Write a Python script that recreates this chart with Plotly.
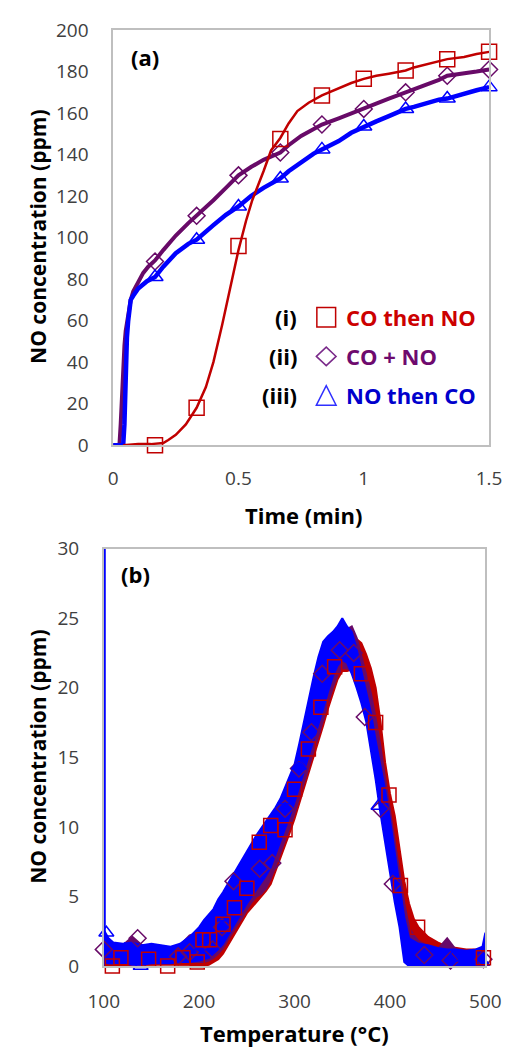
import plotly.graph_objects as go

# ---------------- Panel (a) data ----------------
P_T = [0, 0.02, 0.025, 0.03, 0.035, 0.04, 0.045, 0.05, 0.06, 0.07, 0.08, 0.10, 0.12, 0.14, 0.167, 0.20, 0.25, 0.30, 0.333, 0.40, 0.45, 0.50, 0.55, 0.60, 0.667, 0.70, 0.75, 0.80, 0.833, 0.90, 0.95, 1.00, 1.05, 1.10, 1.167, 1.20, 1.25, 1.30, 1.333, 1.40, 1.45, 1.50]
P_Y = [0, 0, 0, 10, 25, 38, 48, 55, 64, 70, 74, 79, 83, 86, 89, 94, 101, 107, 110.5, 118, 124, 130, 134, 137.5, 141, 144.5, 149, 152.5, 154.5, 157.5, 160, 162, 164.5, 167, 170, 171.5, 173.5, 176, 178, 179, 180, 181]

B_T = [0, 0.04, 0.045, 0.05, 0.055, 0.06, 0.065, 0.07, 0.08, 0.10, 0.135, 0.167, 0.20, 0.25, 0.30, 0.333, 0.40, 0.45, 0.50, 0.55, 0.60, 0.667, 0.70, 0.75, 0.80, 0.833, 0.90, 0.95, 1.00, 1.05, 1.10, 1.167, 1.20, 1.25, 1.30, 1.333, 1.40, 1.45, 1.50]
B_Y = [0, 0, 10, 35, 52, 60, 67, 70, 72, 75.5, 79, 81, 86, 92.5, 97, 99, 106, 111, 115, 120, 124, 128.5, 132, 136.5, 140.5, 142.5, 146.5, 150.5, 153.5, 156, 158.5, 162, 163, 165, 166.5, 167, 169.5, 171, 172.5]

R_T = [0.04, 0.10, 0.15, 0.20, 0.22, 0.25, 0.29, 0.333, 0.37, 0.40, 0.435, 0.46, 0.485, 0.50, 0.53, 0.555, 0.60, 0.63, 0.667, 0.70, 0.735, 0.78, 0.833, 0.90, 0.95, 1.00, 1.05, 1.10, 1.167, 1.20, 1.25, 1.30, 1.333, 1.40, 1.45, 1.50]
R_Y = [0, 0.5, 0.5, 1, 2.5, 5, 10, 18, 28, 40, 58, 72, 85, 94, 108, 118, 132, 142, 148, 155, 161, 165, 168.5, 172, 174.5, 176.5, 178, 179, 180.5, 182, 183.5, 185, 186, 187, 188.5, 189.5]

MK_T = [0.167, 0.333, 0.5, 0.667, 0.833, 1.0, 1.167, 1.333, 1.5]
MK_RED = [0, 18, 96, 147.5, 168.5, 176.5, 180.5, 186, 189.5]
MK_PUR = [88.5, 110.5, 130, 141, 154.5, 162, 170, 178, 181]
MK_BLU = [81, 99, 115, 128.5, 142.5, 153.5, 162, 167, 172.5]

A_XTICKS = [0, 0.5, 1, 1.5]
A_XLABELS = ["0", "0.5", "1", "1.5"]
A_YTICKS = list(range(0, 201, 20))

# ---------------- Panel (b) data ----------------
BX = [100, 105, 110, 120, 130, 140, 150, 160, 170, 180, 190, 200, 205, 210, 215, 220, 225, 230, 235, 240, 245, 250, 255, 260, 265, 270, 275, 280, 285, 290, 295, 300, 305, 310, 315, 320, 325, 330, 335, 340, 345, 350, 355, 360, 365, 370, 375, 380, 385, 390, 395, 400, 405, 410, 415, 420, 425, 430, 440, 450, 460, 470, 480, 490, 497, 500]
BLUE_LO = [0.3, 0.2, 0.2, 0.2, 0.1, 0.1, 0.2, 0.2, 0.2, 0.3, 0.3, 0.4, 0.5, 0.6, 0.9, 1.2, 1.6, 2.2, 2.8, 3.4, 3.9, 4.5, 5.0, 5.5, 6.0, 6.5, 7.1, 8.0, 8.9, 9.8, 10.8, 11.8, 12.9, 14.0, 15.1, 16.3, 17.4, 18.5, 19.7, 20.8, 21.6, 22.0, 21.8, 21.0, 20.0, 18.9, 17.6, 15.6, 13.4, 11.0, 8.8, 6.6, 4.6, 2.8, 0.3, 0, 0, 0, 0, 0, 0, 0, 0, 0, 0, 0]
BLUE_HI = [2.6, 2.0, 1.7, 1.6, 1.7, 1.5, 1.6, 1.5, 1.4, 1.6, 2.1, 2.8, 3.3, 3.7, 4.1, 4.8, 5.3, 5.9, 6.5, 7.0, 7.6, 8.2, 8.8, 9.4, 9.9, 10.4, 10.9, 11.4, 12.0, 12.8, 13.6, 14.5, 16.0, 17.7, 19.2, 20.8, 22.2, 23.3, 23.7, 24.0, 24.4, 25.0, 24.4, 24.0, 22.8, 21.2, 19.8, 18.2, 16.2, 14.5, 12.6, 10.5, 8.2, 5.8, 3.5, 2.0, 1.8, 1.6, 1.5, 1.3, 1.2, 1.2, 1.1, 1.2, 1.4, 2.4]
RED_LO = [0, 0, 0, 0, 0.1, 0.1, 0.1, 0.1, 0.1, 0.1, 0.1, 0, 0, 0.1, 0.3, 0.5, 0.9, 1.5, 2.1, 2.7, 3.2, 3.8, 4.2, 4.6, 5.0, 5.4, 5.9, 6.8, 7.7, 8.6, 9.6, 10.6, 11.7, 12.8, 13.9, 15.1, 16.2, 17.3, 18.5, 19.6, 20.6, 21.2, 21.2, 21.3, 21.0, 20.3, 19.3, 17.8, 15.8, 13.6, 11.4, 9.2, 7.0, 5.0, 3.0, 1.5, 0.8, 0.4, 0.1, 0, 0, 0, 0, 0, 0, 0]
RED_HI = [2.0, 1.6, 1.5, 1.4, 1.5, 1.5, 1.4, 1.2, 1.2, 1.3, 1.4, 1.6, 1.8, 2.1, 2.5, 3.0, 3.5, 4.0, 4.6, 5.2, 5.8, 6.4, 7.0, 7.6, 8.2, 8.8, 9.4, 10.0, 10.7, 11.5, 12.4, 13.4, 14.6, 15.8, 17.0, 18.2, 19.4, 20.4, 21.2, 21.8, 22.3, 22.8, 23.2, 23.5, 23.5, 23.2, 22.4, 21.4, 20.0, 17.6, 14.6, 12.4, 10.8, 8.6, 6.1, 4.5, 3.4, 2.8, 2.1, 1.7, 1.4, 1.3, 1.2, 1.2, 1.3, 1.3]
PUR_LO = [0.2, 0.2, 0.2, 0.3, 0.3, 0.3, 0.3, 0.3, 0.3, 0.3, 0.3, 0.3, 0.3, 0.4, 0.6, 0.9, 1.3, 1.9, 2.5, 3.0, 3.5, 4.1, 4.6, 5.0, 5.2, 5.6, 6.3, 7.2, 8.1, 9.0, 10.0, 11.0, 12.1, 13.2, 14.3, 15.5, 16.6, 17.7, 18.9, 20.0, 20.9, 21.4, 21.4, 21.2, 20.6, 19.7, 18.4, 16.6, 14.5, 12.2, 10.0, 7.8, 5.7, 3.8, 1.5, 0.5, 0.2, 0.1, 0, 0, 0, 0, 0, 0, 0, 0]
PUR_HI = [2.2, 1.8, 1.6, 1.5, 2.1, 1.5, 1.4, 1.4, 1.3, 1.5, 2.2, 2.4, 2.6, 3.0, 3.4, 3.9, 4.4, 5.0, 5.6, 6.1, 6.7, 7.3, 7.9, 8.5, 9.0, 9.5, 10.0, 10.5, 11.1, 11.9, 12.7, 13.6, 15.0, 16.6, 18.1, 19.6, 21.0, 22.0, 22.6, 23.0, 23.5, 23.9, 24.2, 24.4, 23.6, 22.3, 21.0, 19.6, 17.8, 15.8, 13.4, 11.2, 9.0, 6.8, 4.5, 2.8, 2.2, 1.8, 1.4, 1.2, 2.0, 1.1, 1.0, 1.0, 1.0, 1.0]
SPIKE_X = [100.8, 100.8]
SPIKE_Y = [0, 32]

SQ_T = [97, 109, 118, 147, 167, 183, 198, 204, 211, 225, 237, 250, 263, 275, 290, 300, 314.5, 327.6, 342, 370, 385, 399, 411, 429, 498]
SQ_Y = [1.5, 0, 0.6, 0.5, 0, 0.6, 0.3, 1.9, 1.9, 3.0, 4.2, 5.6, 8.9, 10.1, 9.8, 12.7, 15.6, 18.6, 21.5, 21.0, 17.5, 12.3, 5.8, 2.8, 0.6]
DI_T = [100, 135.5, 178, 190, 214, 224, 236, 263.5, 276.6, 290, 304.6, 317.7, 329, 347.3, 362, 373.6, 390, 403, 436, 463.5, 498]
DI_Y = [1.2, 2.0, 0.7, 1.0, 1.2, 2.8, 6.1, 7.0, 7.4, 11.3, 14.2, 16.8, 21.0, 22.7, 22.5, 17.9, 11.3, 5.9, 0.8, 0.4, 0.5]
TR_T = [102.7, 122, 138.7, 203, 224, 250, 290, 304.6, 388, 465.5, 496.7]
TR_Y = [2.4, 1.2, 0, 1.4, 3.5, 6.0, 11.9, 14.4, 11.5, 0.6, 0.3]

B_XTICKS = [100, 200, 300, 400, 500]
B_YTICKS = [0, 5, 10, 15, 20, 25, 30]

LEGEND_LABELS = ["(i)", "(ii)", "(iii)"]
LEGEND_NAMES = ["CO then NO", "CO + NO", "NO then CO"]

RED = "#C00000"
PUR = "#680A68"
BLU = "#0000FF"
RED_TXT = "#CC0000"
PUR_TXT = "#6E0A6E"
BLU_TXT = "#0000CC"
GRID = "#BFBFBF"
TICK = "#404040"
FONT = "Open Sans"

W, H = 522, 1063
def px(x):
    return x / W
def py(y):
    return 1 - y / H

fig = go.Figure()

# ---- panel (a) ----
for xs, ys, mx, my, col, sym, msz, lw in [
    (P_T, P_Y, MK_T, MK_PUR, PUR, "diamond-open", 13, 4),
    (B_T, B_Y, MK_T, MK_BLU, BLU, "triangle-up-open", 14, 4.5),
    (R_T, R_Y, MK_T, MK_RED, RED, "square-open", 15, 2.5),
]:
    fig.add_trace(go.Scatter(x=xs, y=ys, mode="lines", line=dict(color=col, width=lw),
                             xaxis="x", yaxis="y", showlegend=False, hoverinfo="skip"))
    fig.add_trace(go.Scatter(x=mx, y=my, mode="markers",
                             marker=dict(symbol=sym, size=msz, color=col, line=dict(width=1.5, color=col)),
                             xaxis="x", yaxis="y", showlegend=False, cliponaxis=False))

# ---- panel (b) ----
for lo, hi, col in [(RED_LO, RED_HI, RED), (PUR_LO, PUR_HI, PUR), (BLUE_LO, BLUE_HI, BLU)]:
    fig.add_trace(go.Scatter(x=BX, y=lo, mode="lines", line=dict(color=col, width=2),
                             xaxis="x2", yaxis="y2", showlegend=False, hoverinfo="skip"))
    fig.add_trace(go.Scatter(x=BX, y=hi, mode="lines", line=dict(color=col, width=2),
                             fill="tonexty", fillcolor=col,
                             xaxis="x2", yaxis="y2", showlegend=False, hoverinfo="skip"))
fig.add_trace(go.Scatter(x=SPIKE_X, y=SPIKE_Y, mode="lines", line=dict(color=BLU, width=2.5),
                         xaxis="x2", yaxis="y2", showlegend=False, hoverinfo="skip"))
for xs, ys, col, sym, msz in [
    (DI_T, DI_Y, PUR, "diamond-open", 13),
    (TR_T, TR_Y, BLU, "triangle-up-open", 13),
    (SQ_T, SQ_Y, RED, "square-open", 14),
]:
    fig.add_trace(go.Scatter(x=xs, y=ys, mode="markers",
                             marker=dict(symbol=sym, size=msz, color=col, line=dict(width=1.5, color=col)),
                             xaxis="x2", yaxis="y2", showlegend=False, cliponaxis=False))

axis_common = dict(showgrid=False, zeroline=False, showline=True, linecolor=GRID, linewidth=1.5,
                   mirror=True, ticks="outside", ticklen=0, tickcolor="rgba(0,0,0,0)",
                   tickfont=dict(family=FONT, size=19, color=TICK))

fig.update_layout(
    width=W, height=H, margin=dict(l=0, r=0, t=0, b=0),
    paper_bgcolor="white", plot_bgcolor="white",
    xaxis=dict(domain=[px(103.5), px(504)], range=[0, 1.5], tickvals=A_XTICKS, ticktext=A_XLABELS,
               anchor="y", ticklabelstandoff=15, **axis_common),
    yaxis=dict(domain=[py(443), py(17.5)], range=[0, 200], tickvals=A_YTICKS,
               anchor="x", ticklabelstandoff=19, **axis_common),
    xaxis2=dict(domain=[px(93.5), px(500)], range=[100, 500], tickvals=B_XTICKS,
                anchor="y2", ticklabelstandoff=17, **axis_common),
    yaxis2=dict(domain=[py(977), py(549)], range=[0, 30], tickvals=B_YTICKS,
                anchor="x2", ticklabelstandoff=19, **axis_common),
)

ann = []
def add_text(text, x, y, size=22, color="black", xanchor="center", textangle=0, bold=True):
    ann.append(dict(text=("<b>%s</b>" % text) if bold else text, x=px(x), y=py(y), xref="paper", yref="paper",
                    showarrow=False, xanchor=xanchor, yanchor="middle", textangle=textangle,
                    font=dict(family=FONT, size=size, color=color)))

add_text("Time (min)", 306, 515)
add_text("Temperature (°C)", 297, 1046)
add_text("NO concentration (ppm)", 24, 230, textangle=-90, size=21)
add_text("NO concentration (ppm)", 24, 763, textangle=-90, size=21)
add_text("(a)", 137, 45)
add_text("(b)", 127, 575)

rows_y = [312, 352, 392]
cols = [RED_TXT, PUR_TXT, BLU_TXT]
for lab, name, yy, c in zip(LEGEND_LABELS, LEGEND_NAMES, rows_y, cols):
    add_text(lab, 301, yy, xanchor="right")
    add_text(name, 349, yy, color=c, xanchor="left")

shapes = []
cx = 330.5
# square
shapes.append(dict(type="rect", xref="paper", yref="paper", x0=px(cx - 10), x1=px(cx + 10),
                   y0=py(rows_y[0] + 10), y1=py(rows_y[0] - 10), line=dict(color=RED, width=1.5)))
# diamond
yy = rows_y[1]
shapes.append(dict(type="path", xref="paper", yref="paper",
                   path="M %f,%f L %f,%f L %f,%f L %f,%f Z" % (px(cx - 10.5), py(yy), px(cx), py(yy - 9.5),
                                                              px(cx + 10.5), py(yy), px(cx), py(yy + 9.5)),
                   line=dict(color="#7A2A8A", width=1.5)))
# triangle
yy = rows_y[2]
shapes.append(dict(type="path", xref="paper", yref="paper",
                   path="M %f,%f L %f,%f L %f,%f Z" % (px(cx - 10.5), py(yy + 10), px(cx), py(yy - 10),
                                                      px(cx + 10.5), py(yy + 10)),
                   line=dict(color="#3030FF", width=1.5)))

fig.update_layout(annotations=ann, shapes=shapes)
fig.write_html("out.html")
